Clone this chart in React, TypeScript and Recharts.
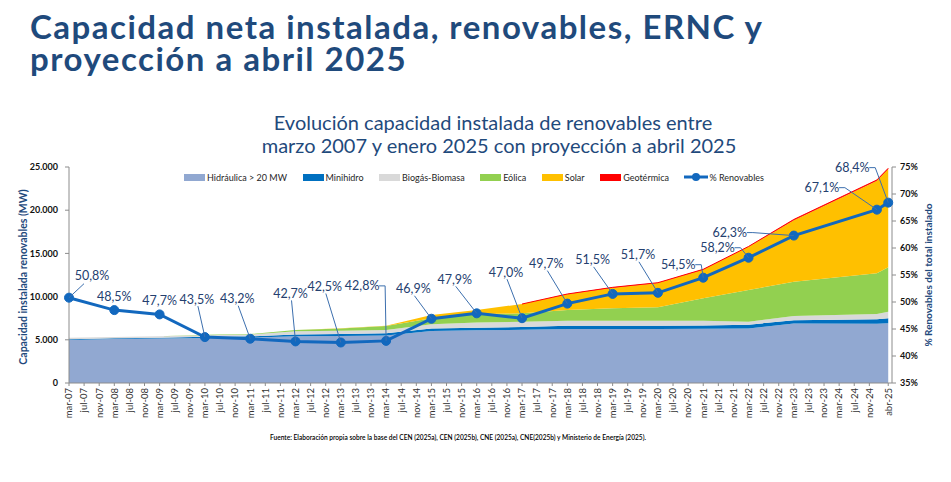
import React from 'react';
import { ComposedChart, Area, Line, XAxis, YAxis, LabelList } from 'recharts';

const FONT = "Lato, 'Liberation Sans', sans-serif";
const NAVY = '#1F4A7C';
const LINE_BLUE = '#1268BE';

// Fechas de corte de la serie (marzo de cada año, enero y abril 2025)
const FECHAS = [
  'mar-07', 'mar-08', 'mar-09', 'mar-10', 'mar-11', 'mar-12', 'mar-13', 'mar-14', 'mar-15',
  'mar-16', 'mar-17', 'mar-18', 'mar-19', 'mar-20', 'mar-21', 'mar-22', 'mar-23', 'ene-25', 'abr-25',
];

// Capacidad instalada por tecnología (MW)
const HIDRAULICA = [4980, 5080, 5150, 5220, 5250, 5400, 5450, 5500, 6020, 6100, 6150, 6250, 6250, 6260, 6270, 6300, 6880, 6850, 6930];
const MINIHIDRO = [90, 90, 90, 120, 150, 220, 230, 250, 280, 300, 330, 380, 380, 380, 380, 450, 380, 520, 560];
const BIOMASA = [170, 150, 160, 180, 200, 360, 380, 380, 500, 600, 620, 580, 580, 570, 560, 350, 490, 620, 760];
const EOLICA = [0, 0, 0, 70, 70, 150, 250, 480, 680, 960, 960, 1240, 1430, 1550, 2590, 3660, 3980, 4710, 5140];
const SOLAR = [0, 0, 0, 0, 0, 0, 20, 20, 390, 490, 1080, 1810, 2390, 2810, 3320, 5000, 7120, 10720, 11380];
const GEOTERMICA = [null, null, null, null, null, null, null, null, null, null, 0, 40, 40, 40, 40, 40, 80, 80, 80];

// Participación renovable en la capacidad total (%)
const PCT_RENOVABLES = [50.8, 48.5, 47.7, 43.5, 43.2, 42.7, 42.5, 42.8, 46.9, 47.9, 47.0, 49.7, 51.5, 51.7, 54.5, 58.2, 62.3, 67.1, 68.4];

const TICK_LABELS = [
  'mar-07', 'jul-07', 'nov-07', 'mar-08', 'jul-08', 'nov-08', 'mar-09', 'jul-09', 'nov-09',
  'mar-10', 'jul-10', 'nov-10', 'mar-11', 'jul-11', 'nov-11', 'mar-12', 'jul-12', 'nov-12',
  'mar-13', 'jul-13', 'nov-13', 'mar-14', 'jul-14', 'nov-14', 'mar-15', 'jul-15', 'nov-15',
  'mar-16', 'jul-16', 'nov-16', 'mar-17', 'jul-17', 'nov-17', 'mar-18', 'jul-18', 'nov-18',
  'mar-19', 'jul-19', 'nov-19', 'mar-20', 'jul-20', 'nov-20', 'mar-21', 'jul-21', 'nov-21',
  'mar-22', 'jul-22', 'nov-22', 'mar-23', 'jul-23', 'nov-23', 'mar-24', 'jul-24', 'nov-24',
  'abr-25',
];

const MW_TICKS = [0, 5000, 10000, 15000, 20000, 25000];
const PCT_TICKS = [35, 40, 45, 50, 55, 60, 65, 70, 75];

const MES: Record<string, number> = {
  ene: 1, feb: 2, mar: 3, abr: 4, may: 5, jun: 6, jul: 7, ago: 8, sep: 9, oct: 10, nov: 11, dic: 12,
};

// Meses transcurridos desde marzo 2007
const mesesDesdeInicio = (s: string) => {
  const [m, yy] = s.split('-');
  return (Number(yy) - 7) * 12 + (MES[m] - 3);
};

const data = FECHAS.map((f, i) => ({
  fecha: f,
  t: mesesDesdeInicio(f),
  hidraulica: HIDRAULICA[i],
  minihidro: MINIHIDRO[i],
  biomasa: BIOMASA[i],
  eolica: EOLICA[i],
  solar: SOLAR[i],
  geotermica: GEOTERMICA[i],
  pct: PCT_RENOVABLES[i],
}));

const X_TICKS = TICK_LABELS.map(mesesDesdeInicio);
const tickText = new Map<number, string>(X_TICKS.map((t, i) => [t, TICK_LABELS[i]]));

const SERIES = [
  { key: 'hidraulica', name: 'Hidráulica > 20 MW', color: '#91A8D1' },
  { key: 'minihidro', name: 'Minihidro', color: '#0070C0' },
  { key: 'biomasa', name: 'Biogás-Biomasa', color: '#D9D9D9' },
  { key: 'eolica', name: 'Eólica', color: '#92D050' },
  { key: 'solar', name: 'Solar', color: '#FFC000' },
  { key: 'geotermica', name: 'Geotérmica', color: '#FF0000' },
];

// Posición de cada etiqueta de porcentaje respecto de su punto y tipo de guía
type Guia = 'none' | 'diag' | 'elbow';
const LABEL_LAYOUT: { dx: number; dy: number; guia: Guia; sx?: number; sy?: number }[] = [
  { dx: 23, dy: -22, guia: 'diag', sx: -8, sy: 8 },
  { dx: 0, dy: -14, guia: 'none' },
  { dx: 0, dy: -14, guia: 'none' },
  { dx: -8, dy: -38, guia: 'diag' },
  { dx: -13, dy: -40, guia: 'diag' },
  { dx: -5, dy: -48, guia: 'diag' },
  { dx: -16, dy: -56, guia: 'diag' },
  { dx: -24, dy: -55, guia: 'elbow' },
  { dx: -18, dy: -30, guia: 'diag' },
  { dx: -22, dy: -34, guia: 'diag' },
  { dx: -16, dy: -46, guia: 'diag' },
  { dx: -21, dy: -40, guia: 'diag' },
  { dx: -20, dy: -34, guia: 'diag' },
  { dx: -20, dy: -38, guia: 'diag' },
  { dx: -25, dy: -13, guia: 'elbow' },
  { dx: -31, dy: -10, guia: 'elbow' },
  { dx: -64, dy: -3, guia: 'elbow' },
  { dx: -55, dy: -22, guia: 'elbow' },
  { dx: -36, dy: -35, guia: 'elbow' },
];

const fmtMiles = (v: number) => v.toLocaleString('de-DE');
const fmtPct = (v: number) => `${v.toFixed(1).replace('.', ',')}%`;

const PctLabel = (props: any) => {
  const vb = props.viewBox || {};
  const x = props.x ?? vb.x;
  const y = props.y ?? vb.y;
  const i = props.index;
  const lay = LABEL_LAYOUT[i];
  if (x == null || y == null || !lay) return null;
  const lx = x + lay.dx;
  const ly = y + lay.dy;
  const half = 15;
  let pts: [number, number][] = [];
  if (lay.guia === 'diag') {
    pts = [[lx + (lay.sx ?? 1), ly + (lay.sy ?? 7)], [x, y]];
  } else if (lay.guia === 'elbow') {
    pts = [[lx + half + 2, ly], [lx + half + 8, ly], [x, y]];
  }
  return (
    <g>
      {pts.length > 0 && (
        <polyline
          points={pts.map((p) => p.join(',')).join(' ')}
          fill="none"
          stroke="#3C6FAE"
          strokeWidth={1}
        />
      )}
      <text
        x={lx}
        y={ly + 4.5}
        textAnchor="middle"
        fontFamily={FONT}
        fontSize={12.5}
        fill="#24406F"
      >
        {fmtPct(Number(props.value))}
      </text>
    </g>
  );
};

const XTick = (props: any) => {
  const { x, y, payload } = props;
  const label = tickText.get(payload.value) ?? '';
  return (
    <text
      x={x}
      y={y + 2}
      transform={`rotate(-90, ${x}, ${y + 2})`}
      textAnchor="end"
      dy="0.35em"
      fontFamily={FONT}
      fontSize={9.5}
      fill="#333"
    >
      {label}
    </text>
  );
};

const Leyenda = () => (
  <div
    style={{
      position: 'absolute',
      left: 184,
      top: 170,
      display: 'flex',
      alignItems: 'center',
      fontFamily: FONT,
      fontSize: 9,
      color: '#262626',
      whiteSpace: 'nowrap',
      height: 14,
    }}
  >
    {SERIES.map((s) => (
      <div key={s.key} style={{ display: 'flex', alignItems: 'center', marginRight: 15.5 }}>
        <div style={{ width: 21, height: 7, background: s.color, marginRight: 2 }} />
        <span>{s.name}</span>
      </div>
    ))}
    <div style={{ display: 'flex', alignItems: 'center' }}>
      <svg width={24} height={10} style={{ marginRight: 1 }}>
        <line x1={0} y1={5} x2={24} y2={5} stroke={LINE_BLUE} strokeWidth={3} />
        <circle cx={12} cy={5} r={4} fill={LINE_BLUE} />
      </svg>
      <span>% Renovables</span>
    </div>
  </div>
);

const titleLine: React.CSSProperties = {
  position: 'absolute',
  left: 30,
  height: 31,
  fontSize: 33,
  lineHeight: '31px',
  letterSpacing: 1.5,
  fontWeight: 700,
  color: NAVY,
  whiteSpace: 'nowrap',
};

const subtitleLine: React.CSSProperties = {
  position: 'absolute',
  width: 600,
  fontSize: 20,
  lineHeight: '23px',
  textAlign: 'center',
  color: NAVY,
  whiteSpace: 'nowrap',
};

export default function App() {
  return (
    <div
      style={{
        position: 'absolute',
        left: 0,
        top: 0,
        width: 951,
        height: 482,
        background: '#fff',
        overflow: 'hidden',
        fontFamily: FONT,
      }}
    >
      <div style={{ ...titleLine, top: 11 }}>Capacidad neta instalada, renovables, ERNC y</div>
      <div style={{ ...titleLine, top: 43 }}>proyección a abril 2025</div>

      <div style={{ ...subtitleLine, left: 193, top: 111 }}>Evolución capacidad instalada de renovables entre</div>
      <div style={{ ...subtitleLine, left: 199, top: 134 }}>marzo 2007 y enero 2025 con proyección a abril 2025</div>

      <div style={{ position: 'absolute', left: 0, top: 0 }}>
        <ComposedChart
          width={951}
          height={482}
          data={data}
          margin={{ top: 167, right: 14, bottom: 49, left: 19 }}
        >
          <XAxis
            dataKey="t"
            type="number"
            domain={[0, 218]}
            ticks={X_TICKS}
            interval={0}
            tick={<XTick />}
            tickSize={3}
            tickMargin={0}
            height={50}
            axisLine={{ stroke: '#8C8C8C' }}
            tickLine={{ stroke: '#8C8C8C' }}
          />
          <YAxis
            yAxisId="mw"
            orientation="left"
            width={50}
            domain={[0, 25000]}
            ticks={MW_TICKS}
            tickFormatter={fmtMiles}
            tickSize={4}
            tickMargin={7}
            axisLine={{ stroke: '#8C8C8C' }}
            tickLine={{ stroke: '#8C8C8C' }}
            tick={{ fontFamily: FONT, fontSize: 9, fontWeight: 700, fill: '#111' }}
          />
          <YAxis
            yAxisId="pct"
            orientation="right"
            width={45}
            domain={[35, 75]}
            ticks={PCT_TICKS}
            tickFormatter={(v: number) => `${v}%`}
            tickSize={4}
            tickMargin={4}
            axisLine={{ stroke: '#8C8C8C' }}
            tickLine={{ stroke: '#8C8C8C' }}
            tick={{ fontFamily: FONT, fontSize: 9, fontWeight: 700, fill: '#111', textAnchor: 'start' }}
          />
          {SERIES.map((s) => (
            <Area
              key={s.key}
              yAxisId="mw"
              type="linear"
              dataKey={s.key}
              name={s.name}
              stackId="capacidad"
              fill={s.color}
              fillOpacity={1}
              stroke={s.key === 'geotermica' ? s.color : 'none'}
              strokeWidth={s.key === 'geotermica' ? 1 : 0}
              isAnimationActive={false}
              dot={false}
              activeDot={false}
            />
          ))}
          <Line
            yAxisId="pct"
            type="linear"
            dataKey="pct"
            name="% Renovables"
            stroke={LINE_BLUE}
            strokeWidth={3}
            dot={{ r: 4.5, fill: LINE_BLUE, stroke: LINE_BLUE, strokeWidth: 1 }}
            activeDot={false}
            isAnimationActive={false}
          >
            <LabelList dataKey="pct" content={<PctLabel />} />
          </Line>
        </ComposedChart>
      </div>

      <Leyenda />

      <div
        style={{
          position: 'absolute',
          left: 22.5,
          top: 277,
          transform: 'translate(-50%, -50%) rotate(-90deg)',
          fontSize: 10.5,
          fontWeight: 700,
          color: NAVY,
          whiteSpace: 'nowrap',
        }}
      >
        Capacidad instalada renovables (MW)
      </div>

      <div
        style={{
          position: 'absolute',
          left: 928,
          top: 275,
          transform: 'translate(-50%, -50%) rotate(-90deg)',
          fontSize: 10,
          fontWeight: 700,
          color: NAVY,
          whiteSpace: 'nowrap',
        }}
      >
        % Renovables del total instalado
      </div>

      <div
        style={{
          position: 'absolute',
          left: 458,
          top: 437,
          transform: 'translate(-50%, -50%)',
          fontSize: 6.6,
          fontWeight: 600,
          color: '#000',
          whiteSpace: 'nowrap',
        }}
      >
        Fuente: Elaboración propia sobre la base del CEN (2025a), CEN (2025b), CNE (2025a), CNE(2025b)  y Ministerio de Energía (2025).
      </div>
    </div>
  );
}
